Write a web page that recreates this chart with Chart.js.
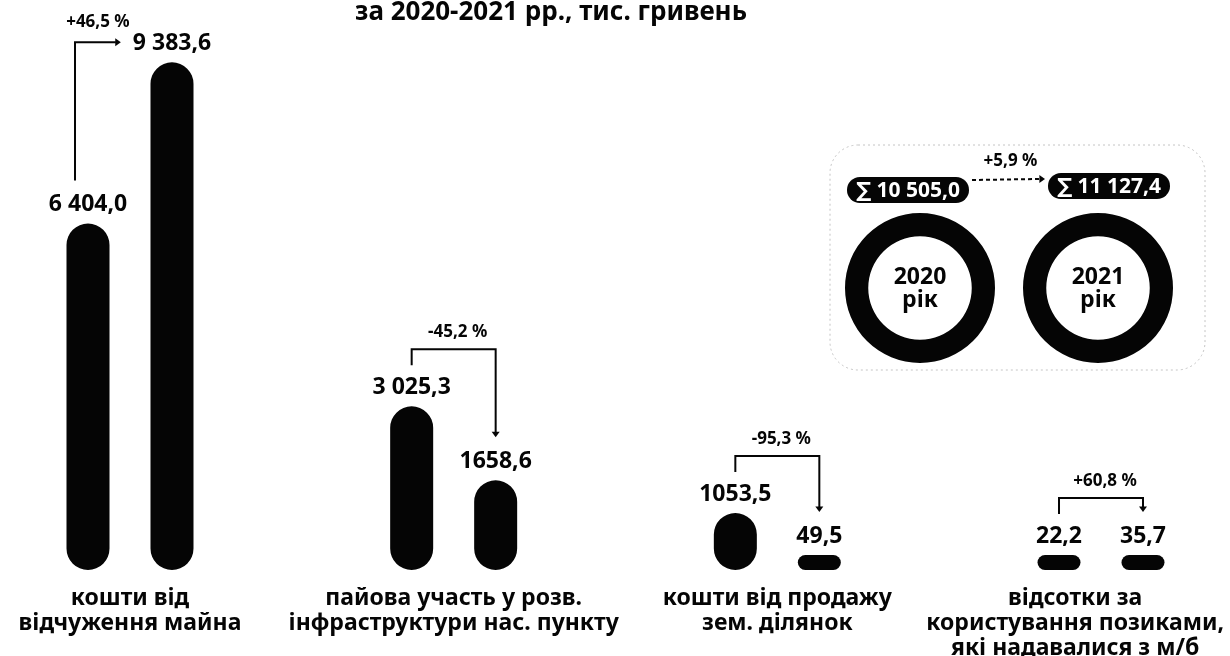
<!DOCTYPE html>
<html><head><meta charset="utf-8">
<script src="https://cdn.jsdelivr.net/npm/chart.js@4.4.1/dist/chart.umd.min.js"></script>
<style>
html,body{margin:0;padding:0;background:#fff;overflow:hidden}
#wrap{position:relative;width:1230px;height:656px}
canvas{position:absolute}
</style></head><body>
<div id="wrap">
<canvas id="main" width="1230" height="656" style="left:0;top:0"></canvas>
<canvas id="d2020" width="150" height="150" style="left:845px;top:213px"></canvas>
<canvas id="d2021" width="150" height="150" style="left:1023px;top:213px"></canvas>
</div>
<script>
const title = 'за 2020-2021 рр., тис. гривень';
const categories = [
  ['кошти від', 'відчуження майна'],
  ['пайова участь у розв.', 'інфраструктури нас. пункту'],
  ['кошти від продажу', 'зем. ділянок'],
  ['відсотки за', 'користування позиками,', 'які надавалися з м/б']
];
const years = ['2020', '2021'];
const values2020 = [6404.0, 3025.3, 1053.5, 22.2];
const values2021 = [9383.6, 1658.6, 49.5, 35.7];
const labels2020 = ['6 404,0', '3 025,3', '1053,5', '22,2'];
const labels2021 = ['9 383,6', '1658,6', '49,5', '35,7'];
const yearWord = 'рік';

const FONT = '"Noto Sans", "DejaVu Sans", sans-serif';
const INK = '#050505';

function fmt(v) {
  const s = v.toFixed(1).split('.');
  return s[0].replace(/\B(?=(\d{3})+(?!\d))/g, ' ') + ',' + s[1];
}
function pct(a, b) {
  const p = (b / a - 1) * 100;
  return (p > 0 ? '+' : '') + p.toFixed(1).replace('.', ',') + ' %';
}
const total2020 = values2020.reduce((a, b) => a + b, 0);
const total2021 = values2021.reduce((a, b) => a + b, 0);

function arrowHead(ctx, x, y, dir, s) {
  ctx.beginPath();
  if (dir === 'down') { ctx.moveTo(x - s, y - s * 1.4); ctx.lineTo(x + s, y - s * 1.4); ctx.lineTo(x, y); }
  else { ctx.moveTo(x - s * 1.4, y - s); ctx.lineTo(x - s * 1.4, y + s); ctx.lineTo(x, y); }
  ctx.closePath(); ctx.fill();
}
function roundRect(ctx, x, y, w, h, r) {
  ctx.beginPath();
  ctx.moveTo(x + r, y); ctx.lineTo(x + w - r, y); ctx.arcTo(x + w, y, x + w, y + r, r);
  ctx.lineTo(x + w, y + h - r); ctx.arcTo(x + w, y + h, x + w - r, y + h, r);
  ctx.lineTo(x + r, y + h); ctx.arcTo(x, y + h, x, y + h - r, r);
  ctx.lineTo(x, y + r); ctx.arcTo(x, y, x + r, y, r); ctx.closePath();
}

const annot = {
  id: 'annot',
  afterDraw(chart) {
    const ctx = chart.ctx;
    const m0 = chart.getDatasetMeta(0).data, m1 = chart.getDatasetMeta(1).data;
    ctx.save();
    ctx.fillStyle = INK; ctx.strokeStyle = INK;
    ctx.textAlign = 'center'; ctx.textBaseline = 'middle';
    // title
    ctx.font = 'bold 26px ' + FONT;
    ctx.fillText(title, 551, 13);
    // value labels
    ctx.font = 'bold 23px ' + FONT;
    const ly0 = [], ly1 = [];
    m0.forEach((b, i) => { const y = b.y - 19; ly0.push(y); ctx.fillText(labels2020[i], b.x, y); });
    m1.forEach((b, i) => { const y = b.y - 19; ly1.push(y); ctx.fillText(labels2021[i], b.x, y); });
    // change brackets
    ctx.lineWidth = 2;
    for (let i = 0; i < m0.length; i++) {
      const x0 = m0[i].x, x1 = m1[i].x;
      const txt = pct(values2020[i], values2021[i]);
      if (i === 0) {
        ctx.font = 'bold 23px ' + FONT;
        const w2 = ctx.measureText(labels2021[i]).width;
        const vx = x0 - 13, yTop = ly1[i] - 1, xEnd = x1 - w2 / 2 - 12;
        ctx.beginPath(); ctx.moveTo(vx, ly0[i] - 24); ctx.lineTo(vx, yTop); ctx.lineTo(xEnd - 5, yTop); ctx.stroke();
        arrowHead(ctx, xEnd, yTop, 'right', 4);
        ctx.font = 'bold 17px ' + FONT;
        ctx.fillText(txt, (vx + xEnd) / 2, yTop - 20);
      } else {
        ctx.font = 'bold 17px ' + FONT;
        const startY = ly0[i] - 22, topY = startY - 16, endY = ly1[i] - 24;
        ctx.beginPath(); ctx.moveTo(x0, startY); ctx.lineTo(x0, topY); ctx.lineTo(x1, topY); ctx.lineTo(x1, endY - 5); ctx.stroke();
        arrowHead(ctx, x1, endY, 'down', 4);
        ctx.fillText(txt, (x0 + x1) / 2 + 4, topY - 17);
      }
    }
    // category labels
    ctx.font = 'bold 23px ' + FONT;
    categories.forEach((lines, i) => {
      let cx = chart.scales.x.getPixelForValue(i);
      const maxW = Math.max(...lines.map(l => ctx.measureText(l).width));
      cx = Math.min(cx, chart.width - maxW / 2 - 6);
      cx = Math.max(cx, maxW / 2 + 6);
      lines.forEach((l, k) => ctx.fillText(l, cx, 598 + k * 25));
    });
    // totals panel
    ctx.save();
    ctx.strokeStyle = '#c4c4c4'; ctx.lineWidth = 1; ctx.setLineDash([2, 3]);
    roundRect(ctx, 830, 145, 375, 225, 28); ctx.stroke();
    ctx.restore();
    const pills = [
      { txt: '∑ ' + fmt(total2020), cx: 908, cy: 190 },
      { txt: '∑ ' + fmt(total2021), cx: 1109, cy: 186 }
    ];
    ctx.font = 'bold 21px ' + FONT;
    pills.forEach(p => {
      const w = ctx.measureText(p.txt).width + 18;
      ctx.fillStyle = INK;
      roundRect(ctx, p.cx - w / 2, p.cy - 13, w, 26, 13); ctx.fill();
      ctx.fillStyle = '#fff';
      ctx.fillText(p.txt, p.cx, p.cy + 1);
      p.w = w;
    });
    ctx.fillStyle = INK; ctx.strokeStyle = INK;
    const ax0 = pills[0].cx + pills[0].w / 2 + 3, ax1 = pills[1].cx - pills[1].w / 2 - 3;
    ctx.save(); ctx.setLineDash([4, 3]); ctx.lineWidth = 2;
    ctx.beginPath(); ctx.moveTo(ax0, 180); ctx.lineTo(ax1 - 6, 179); ctx.stroke(); ctx.restore();
    arrowHead(ctx, ax1, 179, 'right', 4);
    ctx.font = 'bold 17px ' + FONT;
    ctx.fillText(pct(total2020, total2021), (ax0 + ax1) / 2 + 2, 161);
    ctx.restore();
  }
};

const barStyle = {
  backgroundColor: INK, borderColor: INK, borderWidth: 0, borderRadius: 30, borderSkipped: false,
  minBarLength: 15, barPercentage: 0.512, categoryPercentage: 0.519, clip: false
};

new Chart(document.getElementById('main'), {
  type: 'bar',
  data: {
    labels: categories,
    datasets: [
      Object.assign({ label: years[0], data: values2020 }, barStyle),
      Object.assign({ label: years[1], data: values2021 }, barStyle)
    ]
  },
  options: {
    responsive: false, animation: false, events: [],
    layout: { padding: { left: 130, right: 129, top: 29, bottom: 86 } },
    scales: {
      x: { display: false, offset: false },
      y: { display: false, min: 0, max: 10000 }
    },
    plugins: { colors: { enabled: false }, legend: { display: false }, tooltip: { enabled: false } }
  },
  plugins: [annot]
});

function ring(id, year, total) {
  new Chart(document.getElementById(id), {
    type: 'doughnut',
    data: { labels: [year], datasets: [{ data: [total], backgroundColor: INK, borderWidth: 0 }] },
    options: {
      responsive: false, animation: false, events: [], cutout: '69%',
      layout: { padding: 0 },
      plugins: { colors: { enabled: false }, legend: { display: false }, tooltip: { enabled: false } }
    },
    plugins: [{
      id: 'center',
      afterDraw(c) {
        const ctx = c.ctx, a = c.chartArea;
        const cx = (a.left + a.right) / 2, cy = (a.top + a.bottom) / 2;
        ctx.save();
        ctx.fillStyle = INK; ctx.textAlign = 'center'; ctx.textBaseline = 'middle';
        ctx.font = 'bold 23px ' + FONT;
        ctx.fillText(year, cx, cy - 11);
        ctx.fillText(yearWord, cx, cy + 12);
        ctx.restore();
      }
    }]
  });
}
ring('d2020', years[0], total2020);
ring('d2021', years[1], total2021);
</script>
</body></html>
